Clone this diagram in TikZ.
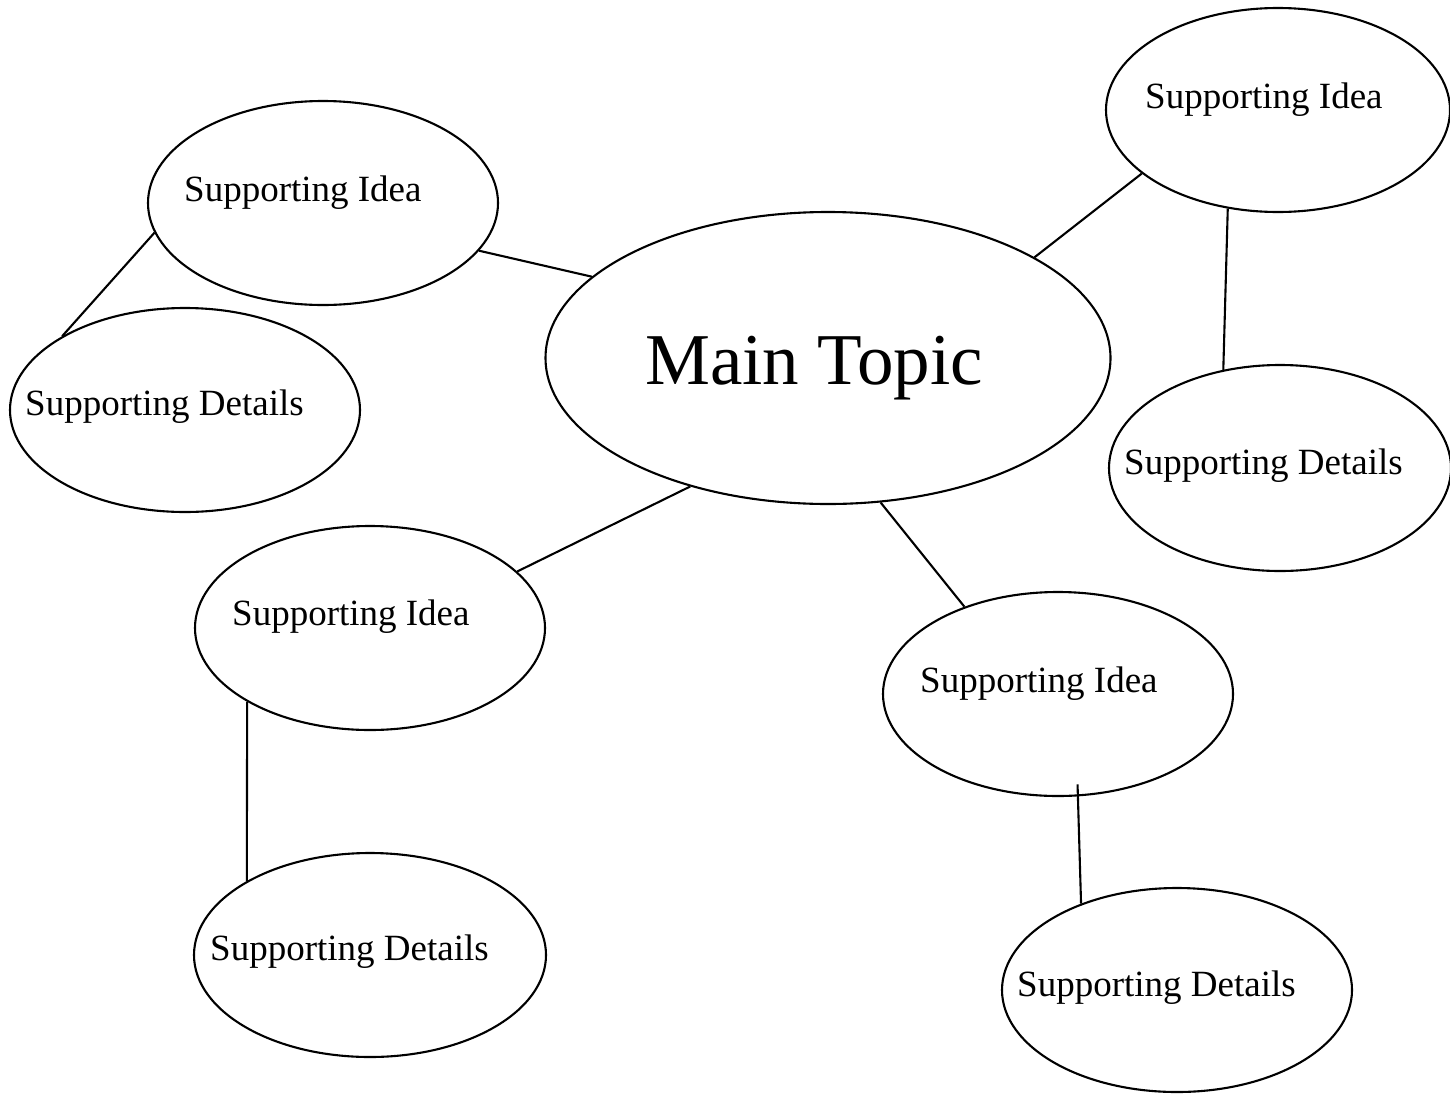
\documentclass[tikz,border=0pt]{standalone}
\usepackage{fontspec}
\setmainfont{Liberation Serif}
\usetikzlibrary{shapes.geometric}
\tikzset{
  bubble/.style={draw, line width=2.1pt, shape=ellipse, inner sep=0pt},
  smallbubble/.style={bubble, minimum width=350pt, minimum height=204pt},
  lbl/.style={anchor=base west, inner sep=0pt, font=\fontsize{37}{44}\selectfont},
  mainlbl/.style={anchor=base west, inner sep=0pt, font=\fontsize{73}{80}\selectfont},
  link/.style={line width=2.1pt}
}
\begin{document}
\begin{tikzpicture}[x=1pt,y=-1pt]
\useasboundingbox (0,0) rectangle (1450,1095);
\clip (0,0) rectangle (1450,1095);
\fill[white] (0,0) rectangle (1450,1095);
% ellipses
\node[bubble, minimum width=565pt, minimum height=292pt] (main) at (828,358) {};
\node[smallbubble] (si1) at (323,203) {};
\node[smallbubble] (sd1) at (185,410) {};
\node[smallbubble, minimum width=344pt] (si2) at (1278,110) {};
\node[smallbubble, minimum width=342pt, minimum height=206pt] (sd2) at (1280,468) {};
\node[smallbubble] (si3) at (370,628) {};
\node[smallbubble, minimum width=352pt] (sd3) at (370,955) {};
\node[smallbubble] (si4) at (1058,694) {};
\node[smallbubble] (sd4) at (1177,990) {};
% texts
\node[mainlbl] (tmain) at (645,384) {Main Topic};
\node[lbl] (tsi1) at (184,201) {Supporting Idea};
\node[lbl] (tsd1) at (25,415) {Supporting Details};
\node[lbl] (tsi2) at (1145,108) {Supporting Idea};
\node[lbl] (tsd2) at (1124,474) {Supporting Details};
\node[lbl] (tsi3) at (232,625) {Supporting Idea};
\node[lbl] (tsd3) at (210,960) {Supporting Details};
\node[lbl] (tsi4) at (920,692) {Supporting Idea};
\node[lbl] (tsd4) at (1017,996) {Supporting Details};
% connectors
\draw[link] (si1.-17.2) -- (main.161.6);
\draw[link] (si1.190) -- (sd1.149.7);
\draw[link] (main.26.8) -- (si2.205.3);
\draw[link] (si2.243.4) -- (sd2.120.6);
\draw[link] (main.223.1) -- (si3.21.1);
\draw[link] (si3.211.7) -- (sd3.149.9);
\draw[link] (main.-70) -- (si4.137.6);
\draw[link, shorten <=-12pt] (si4.-79.4) -- (sd4.138.8);
\end{tikzpicture}
\end{document}
